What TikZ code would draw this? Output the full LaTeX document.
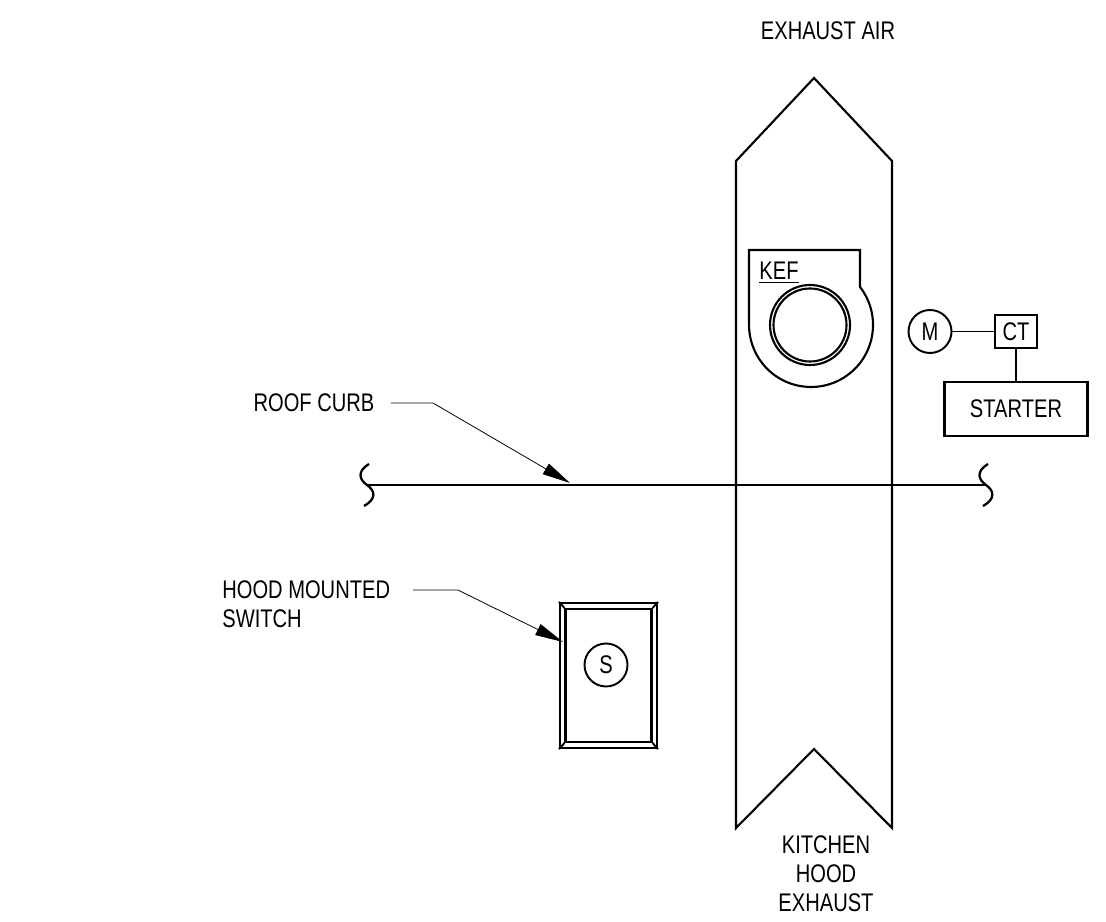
\documentclass[tikz,border=0pt]{standalone}
\usepackage{fontspec}
\setmainfont[FakeStretch=0.79]{Liberation Sans}
\usepackage{tikz}
\usetikzlibrary{arrows.meta,positioning}

\begin{document}
\begin{tikzpicture}[
  duct/.style={draw=black, line width=1.2pt, line join=miter},
  part/.style={rectangle, draw=black, line width=1.2pt, inner sep=0pt, font=\fontsize{14.5}{16}\selectfont},
  round/.style={circle, draw=black, line width=1.1pt, minimum size=0.86cm, inner sep=0pt, font=\fontsize{14.5}{16}\selectfont},
  wire/.style={draw=black, line width=1.1pt},
  leader/.style={draw=black, line width=0.45pt, -{Stealth[length=0.56cm, width=0.24cm, inset=0pt]}},
  label/.style={font=\fontsize{14.5}{16.4}\selectfont, inner sep=0pt, align=center}
]
  \useasboundingbox (0,0) rectangle (22.12,18.42);

  % duct
  \draw[duct] (14.72,15.20) -- (16.28,16.86) -- (17.84,15.20) -- (17.84,1.86)
    -- (16.28,3.44) -- (14.72,1.86) -- cycle;
  \node[label] (air) at (16.56,17.80) {EXHAUST AIR};
  \node[label] (hood) at (16.52,0.94) {KITCHEN\\HOOD\\EXHAUST};

  % fan
  \draw[duct] (14.98,11.92) -- (14.98,13.42) -- (17.20,13.42) -- (17.20,12.68)
    arc[start angle=37.8, end angle=-180, radius=1.24];
  \node[circle, draw=black, line width=1.2pt, minimum size=1.60cm] (outer) at (16.20,11.92) {};
  \node[circle, draw=black, line width=1.2pt, minimum size=1.46cm] (inner) at (16.20,11.92) {};
  \node[label] (kef) at (15.58,12.96) {\underline{KEF}};

  % motor and starter
  \node[round] (motor) at (18.60,11.79) {M};
  \node[part, minimum width=0.84cm, minimum height=0.66cm] (ct) at (20.32,11.79) {CT};
  \node[part, minimum width=2.86cm, minimum height=1.08cm] (starter) at (20.32,10.24) {STARTER};
  \draw[wire] (motor) -- (ct);
  \draw[wire] (ct) -- (starter);

  % roof
  \coordinate (rl) at (7.34,8.72);
  \coordinate (rr) at (19.72,8.72);
  \draw[line width=1.6pt] (rl) -- (rr);
  \foreach \name in {rl,rr}
    \draw[line width=1.3pt] ([shift={(0.04,0.42)}]\name) .. controls ([shift={(-0.22,0.26)}]\name)
      and ([shift={(-0.14,0.10)}]\name) .. (\name)
      .. controls ([shift={(0.14,-0.10)}]\name) and ([shift={(0.22,-0.26)}]\name) .. ([shift={(-0.06,-0.42)}]\name);

  \node[label] (curb) at (6.28,10.36) {ROOF CURB};
  \coordinate (curba) at (7.82,10.36);
  \coordinate (curbb) at (8.66,10.36);
  \coordinate (curbc) at (11.40,8.76);
  \draw[leader] (curba) -- (curbb) -- (curbc);

  % switch
  \node[label, align=left, anchor=west] (mounted) at (4.44,6.33) {HOOD MOUNTED\\SWITCH};
  \node[part, minimum width=1.94cm, minimum height=2.90cm] (swo) at (12.17,4.91) {};
  \node[part, minimum width=1.72cm, minimum height=2.66cm] (swi) at (12.17,4.91) {};
  \foreach \c in {north west,north east,south west,south east}
    \draw[wire] (swo.\c) -- (swi.\c);
  \node[round] (s) at (12.12,5.12) {S};
  \coordinate (swa) at (8.26,6.62);
  \coordinate (swb) at (9.16,6.62);
  \coordinate (swc) at (11.26,5.58);
  \draw[leader] (swa) -- (swb) -- (swc);
\end{tikzpicture}
\end{document}
